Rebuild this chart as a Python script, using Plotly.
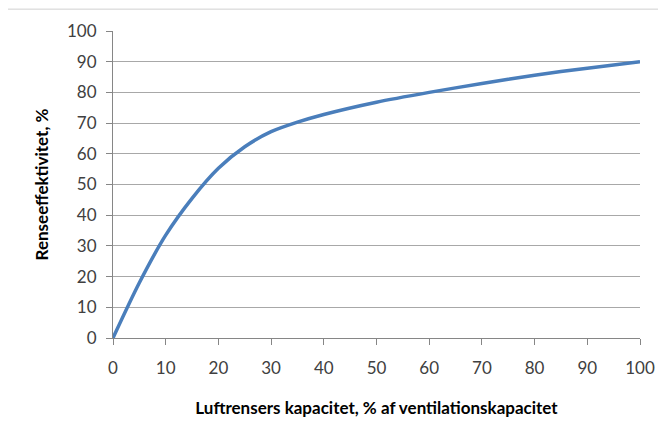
import plotly.graph_objects as go

capacity = [0, 5, 10, 15, 20, 25, 30, 35, 40, 50, 60, 70, 80, 90, 100]
efficiency = [0, 18, 33.5, 45.5, 55.3, 62.3, 67.2, 70.3, 72.8, 76.8, 80.0, 82.9, 85.6, 87.9, 90]

x_ticks = list(range(0, 101, 10))
y_ticks = list(range(0, 101, 10))

x_title = "Luftrensers kapacitet, % af ventilationskapacitet"
y_title = "Renseeffektivitet, %"

W, H = 666, 434
# the page body adds an 8px offset; margins compensate for it
L, R, T, B = 105, 34, 21, 104
PW, PH = W - L - R, H - T - B

fig = go.Figure()
fig.add_trace(go.Scatter(
    x=capacity, y=efficiency, mode="lines",
    line=dict(color="#4A7EBB", width=3.5, shape="spline", smoothing=0.8),
    hoverinfo="skip", showlegend=False,
))

tickfont = dict(family="Lato, 'Open Sans', sans-serif", size=17, color="#404040")
titlefont = dict(family="Lato, 'Open Sans', sans-serif", size=17, color="#000000")

fig.update_layout(
    width=W, height=H,
    margin=dict(l=L, r=R, t=T, b=B),
    paper_bgcolor="white", plot_bgcolor="white",
    xaxis=dict(
        range=[0, 100], tickvals=x_ticks, ticktext=[str(v) for v in x_ticks],
        showgrid=False, zeroline=False,
        showline=True, linecolor="#868686", linewidth=1,
        ticks="outside", ticklen=6, tickcolor="#868686",
        tickfont=tickfont, ticklabelstandoff=9,
        title=dict(text="<b>" + x_title + "</b>", font=titlefont, standoff=24),
        fixedrange=True,
    ),
    yaxis=dict(
        range=[0, 100], tickvals=y_ticks, ticktext=[str(v) for v in y_ticks],
        showgrid=True, gridcolor="#A8A8A8", gridwidth=1,
        zeroline=False,
        showline=True, linecolor="#868686", linewidth=1,
        ticks="outside", ticklen=6, tickcolor="#868686",
        tickfont=tickfont, ticklabelstandoff=6,
        title=dict(text="<b>" + y_title + "</b>", font=titlefont, standoff=14),
        fixedrange=True,
    ),
    shapes=[dict(
        type="rect", xref="paper", yref="paper",
        x0=(-1 - L) / PW, x1=(W + 10 - L) / PW,
        y0=-(H + 10 - T - PH) / PH, y1=(PH + T + 1) / PH,
        line=dict(color="#D0D0D0", width=1), fillcolor="rgba(0,0,0,0)",
        layer="below",
    )],
)

fig.write_html("out.html", config={"displayModeBar": False})
